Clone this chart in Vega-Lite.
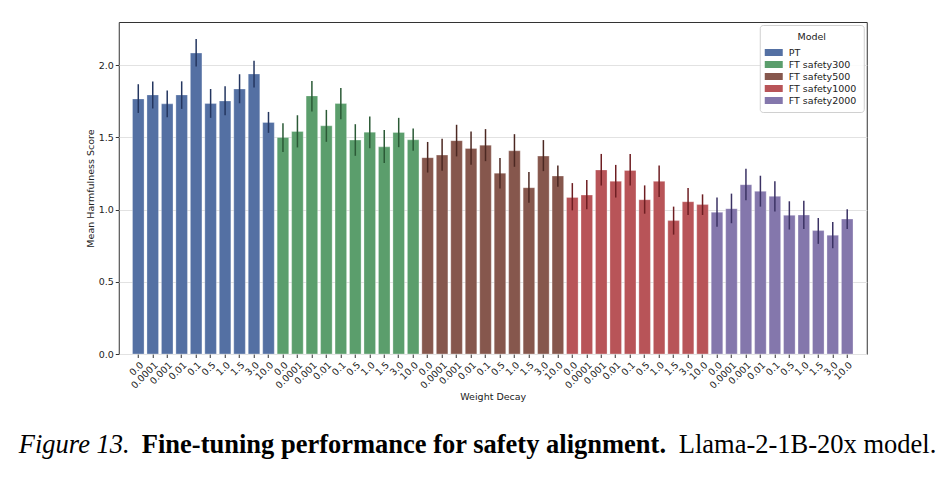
{
  "$schema": "https://vega.github.io/schema/vega-lite/v6.json",
  "padding": {"left": 18, "top": 21, "right": 0, "bottom": 0},
  "background": "white",
  "spacing": 30,
  "center": true,
  "resolve": {"scale": {"color": "independent", "stroke": "independent"}, "legend": {"color": "independent", "stroke": "independent"}},
  "datasets": {
    "scores": [
      {"model": "PT", "wd": "0.0", "mean": 1.767, "lo": 1.670, "hi": 1.869},
      {"model": "PT", "wd": "0.0001", "mean": 1.795, "lo": 1.700, "hi": 1.887},
      {"model": "PT", "wd": "0.001", "mean": 1.733, "lo": 1.641, "hi": 1.825},
      {"model": "PT", "wd": "0.01", "mean": 1.795, "lo": 1.698, "hi": 1.889},
      {"model": "PT", "wd": "0.1", "mean": 2.085, "lo": 1.991, "hi": 2.182},
      {"model": "PT", "wd": "0.5", "mean": 1.735, "lo": 1.636, "hi": 1.836},
      {"model": "PT", "wd": "1.0", "mean": 1.753, "lo": 1.654, "hi": 1.855},
      {"model": "PT", "wd": "1.5", "mean": 1.836, "lo": 1.737, "hi": 1.938},
      {"model": "PT", "wd": "3.0", "mean": 1.940, "lo": 1.846, "hi": 2.032},
      {"model": "PT", "wd": "10.0", "mean": 1.604, "lo": 1.532, "hi": 1.677},
      {"model": "FT safety300", "wd": "0.0", "mean": 1.500, "lo": 1.399, "hi": 1.599},
      {"model": "FT safety300", "wd": "0.0001", "mean": 1.541, "lo": 1.431, "hi": 1.654},
      {"model": "FT safety300", "wd": "0.001", "mean": 1.788, "lo": 1.680, "hi": 1.892},
      {"model": "FT safety300", "wd": "0.01", "mean": 1.581, "lo": 1.470, "hi": 1.691},
      {"model": "FT safety300", "wd": "0.1", "mean": 1.735, "lo": 1.627, "hi": 1.843},
      {"model": "FT safety300", "wd": "0.5", "mean": 1.482, "lo": 1.373, "hi": 1.592},
      {"model": "FT safety300", "wd": "1.0", "mean": 1.537, "lo": 1.426, "hi": 1.645},
      {"model": "FT safety300", "wd": "1.5", "mean": 1.435, "lo": 1.323, "hi": 1.551},
      {"model": "FT safety300", "wd": "3.0", "mean": 1.535, "lo": 1.433, "hi": 1.636},
      {"model": "FT safety300", "wd": "10.0", "mean": 1.484, "lo": 1.408, "hi": 1.562},
      {"model": "FT safety500", "wd": "0.0", "mean": 1.360, "lo": 1.257, "hi": 1.469},
      {"model": "FT safety500", "wd": "0.0001", "mean": 1.378, "lo": 1.270, "hi": 1.491},
      {"model": "FT safety500", "wd": "0.001", "mean": 1.478, "lo": 1.369, "hi": 1.588},
      {"model": "FT safety500", "wd": "0.01", "mean": 1.424, "lo": 1.311, "hi": 1.541},
      {"model": "FT safety500", "wd": "0.1", "mean": 1.447, "lo": 1.336, "hi": 1.558},
      {"model": "FT safety500", "wd": "0.5", "mean": 1.253, "lo": 1.147, "hi": 1.357},
      {"model": "FT safety500", "wd": "1.0", "mean": 1.408, "lo": 1.297, "hi": 1.523},
      {"model": "FT safety500", "wd": "1.5", "mean": 1.152, "lo": 1.048, "hi": 1.260},
      {"model": "FT safety500", "wd": "3.0", "mean": 1.371, "lo": 1.267, "hi": 1.482},
      {"model": "FT safety500", "wd": "10.0", "mean": 1.233, "lo": 1.159, "hi": 1.306},
      {"model": "FT safety1000", "wd": "0.0", "mean": 1.085, "lo": 0.995, "hi": 1.184},
      {"model": "FT safety1000", "wd": "0.0001", "mean": 1.101, "lo": 1.002, "hi": 1.205},
      {"model": "FT safety1000", "wd": "0.001", "mean": 1.275, "lo": 1.167, "hi": 1.386},
      {"model": "FT safety1000", "wd": "0.01", "mean": 1.197, "lo": 1.084, "hi": 1.310},
      {"model": "FT safety1000", "wd": "0.1", "mean": 1.272, "lo": 1.167, "hi": 1.386},
      {"model": "FT safety1000", "wd": "0.5", "mean": 1.069, "lo": 0.972, "hi": 1.168},
      {"model": "FT safety1000", "wd": "1.0", "mean": 1.196, "lo": 1.088, "hi": 1.306},
      {"model": "FT safety1000", "wd": "1.5", "mean": 0.924, "lo": 0.827, "hi": 1.021},
      {"model": "FT safety1000", "wd": "3.0", "mean": 1.055, "lo": 0.963, "hi": 1.150},
      {"model": "FT safety1000", "wd": "10.0", "mean": 1.035, "lo": 0.963, "hi": 1.106},
      {"model": "FT safety2000", "wd": "0.0", "mean": 0.982, "lo": 0.882, "hi": 1.085},
      {"model": "FT safety2000", "wd": "0.0001", "mean": 1.007, "lo": 0.906, "hi": 1.111},
      {"model": "FT safety2000", "wd": "0.001", "mean": 1.173, "lo": 1.065, "hi": 1.283},
      {"model": "FT safety2000", "wd": "0.01", "mean": 1.127, "lo": 1.021, "hi": 1.235},
      {"model": "FT safety2000", "wd": "0.1", "mean": 1.092, "lo": 0.988, "hi": 1.196},
      {"model": "FT safety2000", "wd": "0.5", "mean": 0.961, "lo": 0.862, "hi": 1.058},
      {"model": "FT safety2000", "wd": "1.0", "mean": 0.963, "lo": 0.866, "hi": 1.062},
      {"model": "FT safety2000", "wd": "1.5", "mean": 0.855, "lo": 0.763, "hi": 0.942},
      {"model": "FT safety2000", "wd": "3.0", "mean": 0.823, "lo": 0.733, "hi": 0.915},
      {"model": "FT safety2000", "wd": "10.0", "mean": 0.935, "lo": 0.866, "hi": 1.002}
    ],
    "blank": [{"k": 1}]
  },
  "vconcat": [
    {
      "width": 748,
      "height": 332,
      "data": {"name": "scores"},
      "transform": [
        {"calculate": "datum.model + '|' + datum.wd", "as": "key"}
      ],
      "encoding": {
        "x": {
          "field": "key",
          "type": "nominal",
          "sort": null,
          "scale": {"paddingInner": 0.2, "paddingOuter": 0.95},
          "axis": {
            "title": "Weight Decay",
            "labelExpr": "split(datum.value, '|')[1]",
            "labelAngle": -45,
            "labelAlign": "right",
            "labelBaseline": "top",
            "grid": false,
            "titlePadding": 2
          }
        }
      },
      "layer": [
        {
          "mark": {"type": "bar", "stroke": "#ffffff", "strokeWidth": 0.6, "strokeOpacity": 0.5},
          "encoding": {
            "y": {
              "field": "mean",
              "type": "quantitative",
              "scale": {"domain": [0, 2.3], "nice": false, "zero": true},
              "axis": {
                "title": "Mean Harmfulness Score",
                "values": [0, 0.5, 1.0, 1.5, 2.0],
                "format": ".1f",
                "grid": true,
                "titlePadding": 3
              }
            },
            "color": {
              "field": "model",
              "type": "nominal",
              "sort": ["PT", "FT safety300", "FT safety500", "FT safety1000", "FT safety2000"],
              "scale": {
                "domain": ["PT", "FT safety300", "FT safety500", "FT safety1000", "FT safety2000"],
                "range": ["#5470a3", "#5b9e6c", "#86574d", "#b85458", "#8477ac"]
              },
              "legend": {"title": "Model", "orient": "top-right", "offset": 3}
            }
          }
        },
        {
          "mark": {"type": "rule", "strokeWidth": 1.5},
          "encoding": {
            "y": {"field": "lo", "type": "quantitative"},
            "y2": {"field": "hi"},
            "stroke": {
              "field": "model",
              "type": "nominal",
              "scale": {
                "domain": ["PT", "FT safety300", "FT safety500", "FT safety1000", "FT safety2000"],
                "range": ["#243660", "#2b5a36", "#4c2822", "#6e1e22", "#3b3264"]
              },
              "legend": null
            }
          }
        }
      ]
    },
    {
      "spacing": 11,
      "hconcat": [
        {
          "width": 1, "height": 1,
          "data": {"name": "blank"},
          "view": {"stroke": null},
          "mark": {"type": "point", "opacity": 0},
          "title": {"text": "Figure 13.", "fontStyle": "italic", "fontWeight": "normal", "anchor": "start", "orient": "top", "font": "Liberation Serif", "fontSize": 26.5, "color": "#000000", "offset": 0}
        },
        {
          "width": 1, "height": 1,
          "data": {"name": "blank"},
          "view": {"stroke": null},
          "mark": {"type": "point", "opacity": 0},
          "title": {"text": "Fine-tuning performance for safety alignment.", "fontStyle": "normal", "fontWeight": "bold", "anchor": "start", "orient": "top", "font": "Liberation Serif", "fontSize": 26.5, "color": "#000000", "offset": 0}
        },
        {
          "width": 1, "height": 1,
          "data": {"name": "blank"},
          "view": {"stroke": null},
          "mark": {"type": "point", "opacity": 0},
          "title": {"text": "Llama-2-1B-20x model.", "fontStyle": "normal", "fontWeight": "normal", "anchor": "start", "orient": "top", "font": "Liberation Serif", "fontSize": 26.5, "color": "#000000", "offset": 0}
        },
        {
          "width": 17, "height": 1,
          "data": {"name": "blank"},
          "view": {"stroke": null},
          "mark": {"type": "point", "opacity": 0}
        }
      ]
    }
  ],
  "config": {
    "font": "DejaVu Sans",
    "view": {"stroke": "#333333", "strokeWidth": 1},
    "axis": {
      "labelFont": "DejaVu Sans",
      "titleFont": "DejaVu Sans",
      "labelFontSize": 9.5,
      "titleFontSize": 9.5,
      "titleFontWeight": "normal",
      "labelColor": "#222222",
      "titleColor": "#222222",
      "domain": false,
      "tickColor": "#333333",
      "tickSize": 3.5,
      "labelPadding": 2,
      "gridColor": "#e2e2e2",
      "gridWidth": 1
    },
    "legend": {
      "titleAnchor": "middle",
      "titleFontWeight": "normal",
      "titleFontSize": 9.5,
      "titleColor": "#222222",
      "labelFontSize": 9.5,
      "labelColor": "#222222",
      "titleFont": "DejaVu Sans",
      "labelFont": "DejaVu Sans",
      "titlePadding": 4,
      "symbolType": "M-1.286,-0.5H1.286V0.5H-1.286Z",
      "symbolSize": 196,
      "symbolStrokeWidth": 0,
      "symbolOpacity": 1,
      "rowPadding": 0,
      "labelOffset": 8,
      "padding": 7,
      "strokeColor": "#d0d0d0",
      "fillColor": "rgba(255,255,255,0.85)",
      "cornerRadius": 3
    }
  }
}
